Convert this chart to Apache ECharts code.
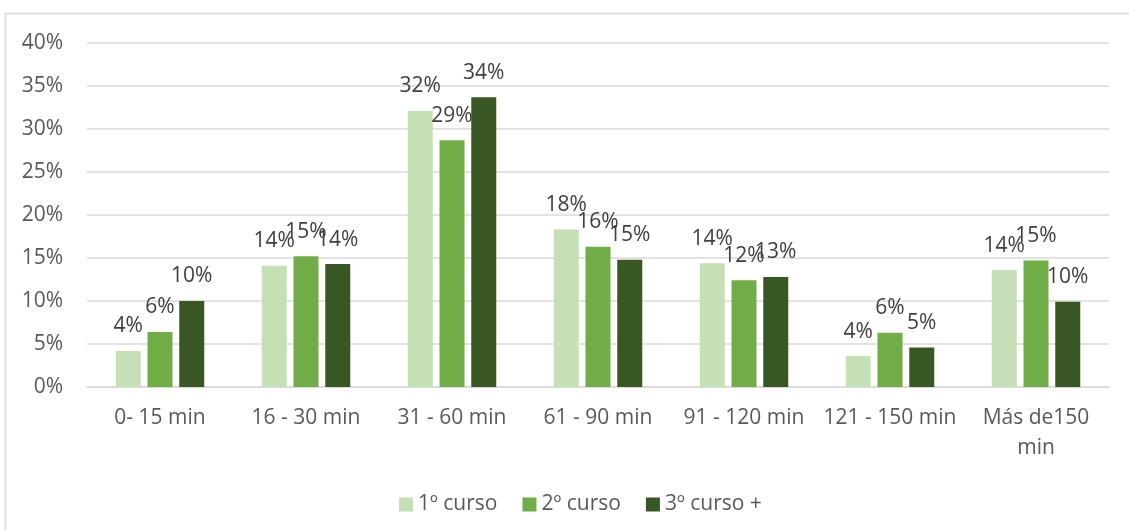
<!DOCTYPE html>
<html>
<head>
<meta charset="utf-8">
<script src="https://cdn.jsdelivr.net/npm/echarts@6/dist/echarts.min.js"></script>
<style>
    html, body { margin: 0; padding: 0; background: #fff; }
    #chart { width: 1129px; height: 530px; }
</style>
</head>
<body>
<div id="chart"></div>
<script>
// categorias (tiempo de desplazamiento)
var categories = ['0- 15 min', '16 - 30 min', '31 - 60 min', '61 - 90 min', '91 - 120 min', '121 - 150 min', 'Más de150\nmin'];
var seriesNames = ['1º curso', '2º curso', '3º curso +'];
// valores en %
var curso1 = [4.2, 14.1, 32.1, 18.3, 14.4, 3.6, 13.6];
var curso2 = [6.4, 15.2, 28.7, 16.3, 12.4, 6.3, 14.7];
var curso3 = [10.0, 14.3, 33.7, 14.8, 12.8, 4.6, 9.9];
var colors = ['#c5e0b4', '#70ad47', '#385723'];

var fontFam = '"Open Sans", "Noto Sans", sans-serif';

function makeSeries(name, data, color) {
    return {
        name: name,
        type: 'bar',
        data: data,
        barWidth: 25,
        barGap: '27%',
        itemStyle: { color: color },
        label: {
            show: true,
            position: 'top',
            distance: 14,
            color: '#404040',
            fontSize: 21,
            fontFamily: fontFam,
            formatter: function (p) { return Math.round(p.value) + '%' }
        }
    }
}

var myChart = echarts.init(document.getElementById('chart'));
myChart.setOption({
    animation: false,
    textStyle: { fontFamily: fontFam },
    graphic: [{
        type: 'rect',
        shape: { x: 5.5, y: 13.5, width: 1300, height: 700 },
        style: { fill: 'none', stroke: '#d9d9d9', lineWidth: 1.5 },
        silent: true
    }],
    grid: { left: 87, right: 20, top: 43, bottom: 143 },
    legend: {
        data: seriesNames,
        left: 394,
        top: 489,
        itemWidth: 14,
        itemHeight: 14,
        itemGap: 25,
        icon: 'rect',
        textStyle: { color: '#595959', fontSize: 21, fontFamily: fontFam, padding: [0, 0, 0, 0] }
    },
    xAxis: {
        type: 'category',
        data: categories,
        axisLine: { lineStyle: { color: '#d9d9d9', width: 1.5 } },
        axisTick: { show: false },
        axisLabel: {
            color: '#595959',
            fontSize: 21,
            lineHeight: 30,
            margin: 16,
            interval: 0,
            fontFamily: fontFam
        }
    },
    yAxis: {
        type: 'value',
        min: 0,
        max: 40,
        interval: 5,
        axisLine: { show: false },
        axisTick: { show: false },
        splitLine: { lineStyle: { color: '#d9d9d9', width: 1.5 } },
        axisLabel: {
            color: '#595959',
            fontSize: 21,
            margin: 24,
            fontFamily: fontFam,
            formatter: '{value}%'
        }
    },
    series: [
        makeSeries(seriesNames[0], curso1, colors[0]),
        makeSeries(seriesNames[1], curso2, colors[1]),
        makeSeries(seriesNames[2], curso3, colors[2])
    ]
});
</script>
</body>
</html>
